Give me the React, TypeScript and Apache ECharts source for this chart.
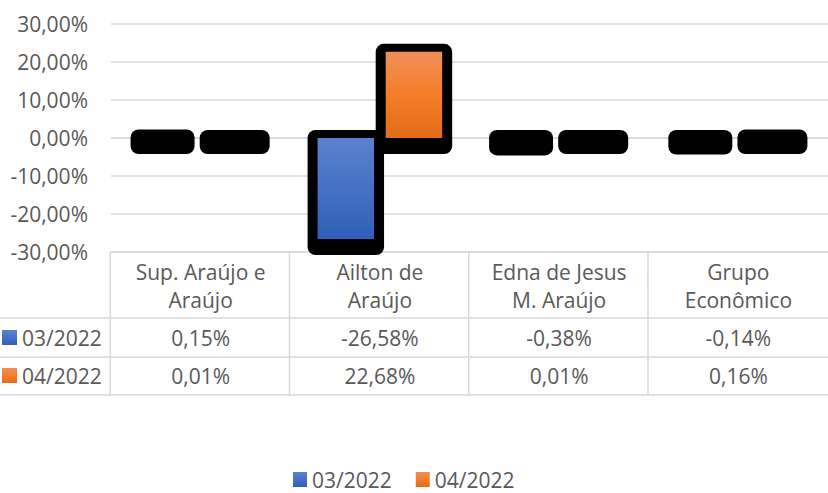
import React, { useEffect, useRef } from "react";
import * as echarts from "echarts";

const categories = ["Sup. Araújo e\nAraújo", "Ailton de\nAraújo", "Edna de Jesus\nM. Araújo", "Grupo\nEconômico"];
const seriesNames = ["03/2022", "04/2022"];
const values0322 = [0.15, -26.58, -0.38, -0.14];
const values0422 = [0.01, 22.68, 0.01, 0.16];
const yTicks = { min: -30, max: 30, interval: 10 };

const FONT = "'Open Sans', 'Noto Sans', sans-serif";
const TEXT = "#595959";
const GRIDC = "#d9d9d9";

const fmt = (v: number) => v.toFixed(2).replace(".", ",") + "%";

const blueGrad = () =>
  new echarts.graphic.LinearGradient(0, 0, 0, 1, [
    { offset: 0, color: "#5b81cd" },
    { offset: 0.5, color: "#4571c6" },
    { offset: 1, color: "#2f5fb8" },
  ]);
const orangeGrad = () =>
  new echarts.graphic.LinearGradient(0, 0, 0, 1, [
    { offset: 0, color: "#f08e58" },
    { offset: 0.5, color: "#f47e2a" },
    { offset: 1, color: "#e46b18" },
  ]);

const GRID = { left: 111, top: 24, width: 723, height: 228 };
const ROW_LINES = [318, 357, 395];
const ROW_CENTERS = [338, 376];

function makeRender(s: number) {
  return (params: any, api: any) => {
    const i = api.value(0);
    const v = api.value(1);
    const band = api.size([1, 0])[0];
    const pv = api.coord([i, v]);
    const y0 = api.coord([i, 0])[1];
    const cx = pv[0] + (s === 0 ? -1 : 1) * band * 0.19;
    const fw = band * 0.315;
    const top = Math.min(pv[1], y0);
    const bot = Math.max(pv[1], y0);
    const h = bot - top;
    const tall = h > 6;
    const left = tall ? cx - fw / 2 - 10 : cx - (s === 0 ? 36 : 35);
    const right = tall ? cx + fw / 2 + 10 : cx + (s === 0 ? 28 : 35);
    const children: any[] = [
      {
        type: "rect",
        shape: { x: left, y: top - 8, width: right - left, height: h + 24, r: 8 },
        style: { fill: "#000" },
      },
    ];
    if (tall) {
      children.push({
        type: "rect",
        shape: { x: cx - fw / 2, y: top, width: fw, height: h },
        style: { fill: s === 0 ? blueGrad() : orangeGrad() },
      });
    }
    return { type: "group", children };
  };
}

export default function App() {
  const ref = useRef<HTMLDivElement>(null);
  useEffect(() => {
    if (!ref.current) return;
    const chart = echarts.init(ref.current, null, { renderer: "svg" });
    const seriesData = [values0322, values0422];
    chart.setOption({
      animation: false,
      grid: { ...GRID, containLabel: false },
      legend: {
        data: seriesNames,
        left: 293,
        top: 469,
        padding: 0,
        icon: "rect",
        itemWidth: 14,
        itemHeight: 15,
        itemGap: 24,
        textStyle: { fontFamily: FONT, fontSize: 21, color: TEXT, lineHeight: 21 },
      },
      xAxis: {
        type: "category",
        data: categories,
        position: "bottom",
        axisLine: { show: false, onZero: false },
        axisTick: { show: false },
        axisLabel: {
          interval: 0,
          margin: 6,
          fontFamily: FONT,
          fontSize: 21,
          lineHeight: 28,
          color: TEXT,
          align: "center",
        },
      },
      yAxis: {
        type: "value",
        min: yTicks.min,
        max: yTicks.max,
        interval: yTicks.interval,
        axisLine: { show: false },
        axisTick: { show: false },
        splitLine: { lineStyle: { color: GRIDC, width: 1.5 } },
        axisLabel: {
          margin: 23,
          fontFamily: FONT,
          fontSize: 21,
          color: TEXT,
          formatter: (v: number) => fmt(v),
        },
      },
      series: seriesData.map((vals, s) => ({
        type: "custom",
        name: seriesNames[s],
        itemStyle: { color: s === 0 ? blueGrad() : orangeGrad() },
        renderItem: makeRender(s),
        encode: { x: 0, y: 1 },
        data: vals.map((v, i) => [i, v]),
        clip: false,
      })),
    });

    const centers = categories.map((_, i) => chart.convertToPixel({ xAxisIndex: 0 }, i) as number);
    const zeroY = chart.convertToPixel({ yAxisIndex: 0 }, 0) as number;
    const band = GRID.width / categories.length;
    const lineStyle = { stroke: GRIDC, lineWidth: 1.5 };
    const graphics: any[] = [];
    graphics.push({
      type: "line",
      shape: { x1: GRID.left, y1: zeroY, x2: GRID.left + GRID.width, y2: zeroY },
      style: lineStyle,
    });
    ROW_LINES.forEach((y) =>
      graphics.push({ type: "line", shape: { x1: 0, y1: y, x2: 840, y2: y }, style: lineStyle })
    );
    const tableTop = GRID.top + GRID.height;
    graphics.push({
      type: "line",
      shape: { x1: GRID.left, y1: tableTop, x2: GRID.left + GRID.width, y2: tableTop },
      style: lineStyle,
    });
    centers.forEach((c) =>
      graphics.push({
        type: "line",
        shape: { x1: c - band / 2, y1: tableTop, x2: c - band / 2, y2: ROW_LINES[2] },
        style: lineStyle,
      })
    );
    graphics.push({
      type: "line",
      shape: { x1: centers[3] + band / 2, y1: tableTop, x2: centers[3] + band / 2, y2: ROW_LINES[2] },
      style: lineStyle,
    });
    seriesData.forEach((vals, s) => {
      const yc = ROW_CENTERS[s];
      graphics.push({
        type: "rect",
        shape: { x: 2, y: yc - 8, width: 15, height: 15 },
        style: { fill: s === 0 ? blueGrad() : orangeGrad() },
      });
      graphics.push({
        type: "text",
        x: 22,
        y: yc,
        style: {
          text: seriesNames[s],
          fontFamily: FONT,
          fontSize: 21,
          fill: TEXT,
          align: "left",
          verticalAlign: "middle",
        },
      });
      vals.forEach((v, i) => {
        graphics.push({
          type: "text",
          x: centers[i],
          y: yc,
          style: {
            text: fmt(v),
            fontFamily: FONT,
            fontSize: 21,
            fill: TEXT,
            align: "center",
            verticalAlign: "middle",
          },
        });
      });
    });
    chart.setOption({ graphic: { z: 20, elements: graphics } });
    return () => chart.dispose();
  }, []);
  return (
    <div
      ref={ref}
      style={{ position: "fixed", left: 0, top: 0, width: 828, height: 493, background: "#fff" }}
    />
  );
}
